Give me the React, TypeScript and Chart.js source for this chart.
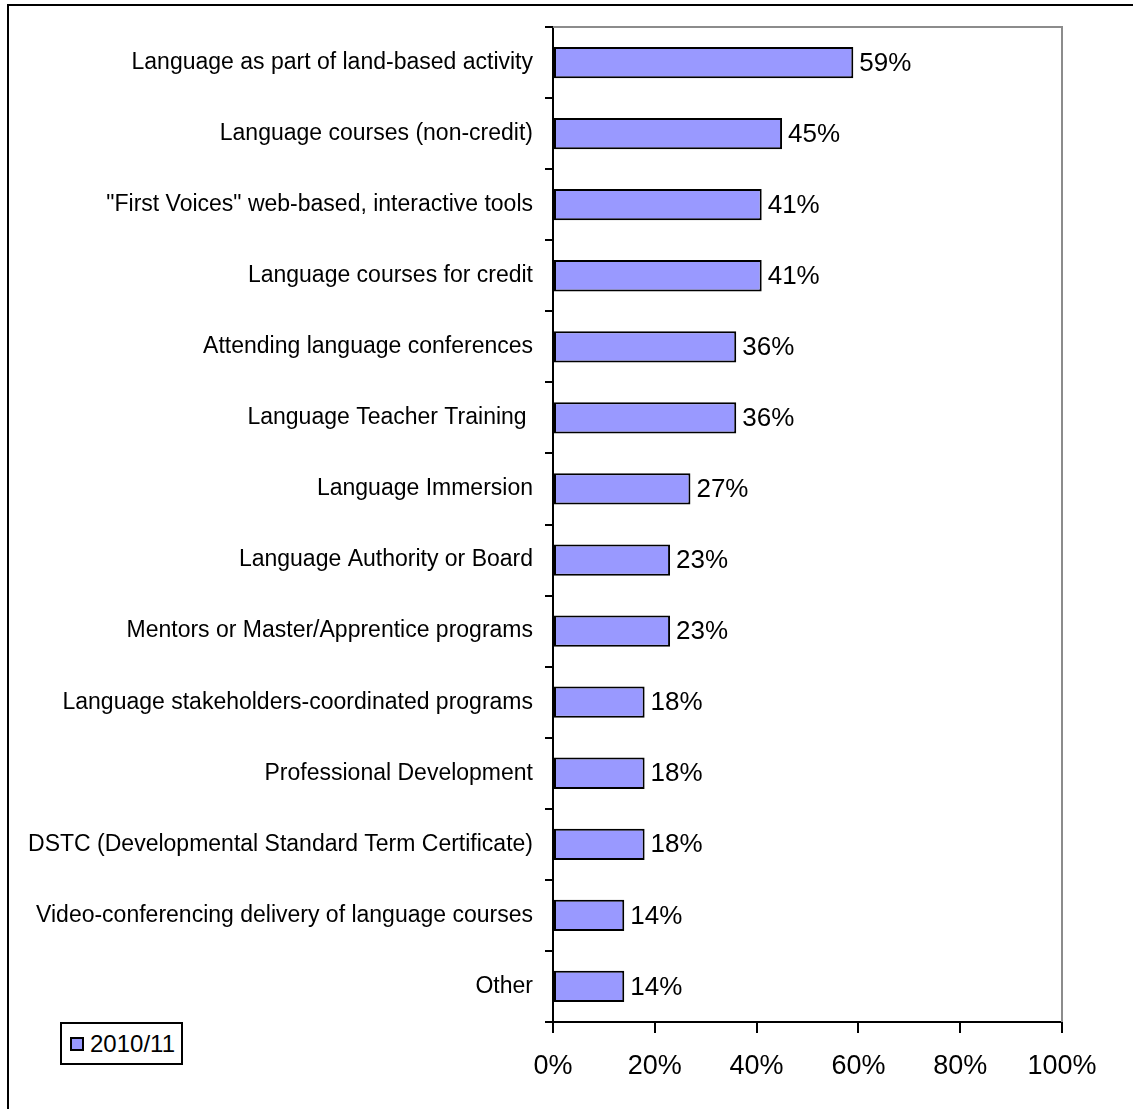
import React, { useEffect, useRef } from "react";
import { Chart, registerables } from "chart.js";

Chart.register(...registerables);

const categories: string[] = [
  "Language as part of land-based activity",
  "Language courses (non-credit)",
  "\"First Voices\" web-based, interactive tools",
  "Language courses for credit",
  "Attending language conferences",
  "Language Teacher Training ",
  "Language Immersion",
  "Language Authority or Board",
  "Mentors or Master/Apprentice programs",
  "Language stakeholders-coordinated programs",
  "Professional Development",
  "DSTC (Developmental Standard Term Certificate)",
  "Video-conferencing delivery of language courses",
  "Other",
];

const values2010: number[] = [59, 45, 41, 41, 36, 36, 27, 23, 23, 18, 18, 18, 14, 14];

const xTicks: number[] = [0, 20, 40, 60, 80, 100];

const seriesName = "2010/11";
const FONT = "'Liberation Sans', Arial, sans-serif";
const BAR_COLOR = "#9999FF";

const W = 1133;
const H = 1109;
const PLOT_LEFT = 553;
const PLOT_RIGHT = 1062;
const PLOT_TOP = 27;
const PLOT_BOTTOM = 1022;

const valueLabels = {
  id: "valueLabels",
  afterDatasetsDraw(chart: any) {
    const ctx = chart.ctx;
    const meta = chart.getDatasetMeta(0);
    ctx.save();
    ctx.font = `26px ${FONT}`;
    ctx.fillStyle = "#000";
    ctx.textAlign = "left";
    ctx.textBaseline = "middle";
    meta.data.forEach((bar: any, i: number) => {
      ctx.fillText(`${values2010[i]}%`, bar.x + 6, bar.y + 1);
    });
    ctx.restore();
  },
};

const plotFrame = {
  id: "plotFrame",
  beforeDatasetsDraw(chart: any) {
    const { ctx, chartArea } = chart;
    ctx.save();
    ctx.strokeStyle = "#8c8c8c";
    ctx.lineWidth = 2;
    ctx.beginPath();
    ctx.moveTo(chartArea.left, chartArea.top);
    ctx.lineTo(chartArea.right, chartArea.top);
    ctx.lineTo(chartArea.right, chartArea.bottom);
    ctx.stroke();
    ctx.restore();
  },
};

export default function App() {
  const ref = useRef<HTMLCanvasElement | null>(null);

  useEffect(() => {
    if (!ref.current) return;
    const chart = new Chart(ref.current, {
      type: "bar",
      data: {
        labels: categories,
        datasets: [
          {
            label: seriesName,
            data: values2010.map((v) => v / 100),
            backgroundColor: BAR_COLOR,
            borderColor: "#000",
            borderWidth: 2,
            borderSkipped: false,
            categoryPercentage: 1,
            barPercentage: 0.44,
          },
        ],
      },
      options: {
        indexAxis: "y",
        responsive: false,
        animation: false,
        maintainAspectRatio: false,
        layout: {
          padding: { top: PLOT_TOP, right: W - PLOT_RIGHT, bottom: 0, left: 0 },
        },
        plugins: {
          legend: { display: false },
          tooltip: { enabled: false },
          title: { display: false },
        },
        scales: {
          x: {
            type: "linear",
            min: 0,
            max: 1,
            afterBuildTicks(scale: any) {
              scale.ticks = xTicks.map((t) => ({ value: t / 100 }));
            },
            afterFit(scale: any) {
              scale.height = H - PLOT_BOTTOM;
            },
            ticks: {
              callback: (v: any) => `${Math.round(Number(v) * 100)}%`,
              font: { family: FONT, size: 27 },
              color: "#000",
              padding: 17,
              maxRotation: 0,
            },
            grid: {
              drawOnChartArea: false,
              drawTicks: true,
              tickLength: 11,
              color: "#000",
              lineWidth: 2,
            },
            border: { display: true, color: "#000", width: 2 },
          },
          y: {
            type: "category",
            afterFit(scale: any) {
              scale.width = PLOT_LEFT;
            },
            ticks: {
              font: { family: FONT, size: 23 },
              color: "#000",
              padding: 12,
              autoSkip: false,
            },
            grid: {
              offset: true,
              drawOnChartArea: false,
              drawTicks: true,
              tickLength: 8,
              color: "#000",
              lineWidth: 2,
            },
            border: { display: true, color: "#000", width: 2 },
          },
        },
      },
      plugins: [plotFrame, valueLabels],
    });
    return () => chart.destroy();
  }, []);

  return (
    <div style={{ position: "absolute", left: 0, top: 0, width: W, height: H, background: "#fff", overflow: "hidden" }}>
      <div
        style={{
          position: "absolute",
          left: 7,
          top: 4,
          width: W + 20,
          height: H + 20,
          borderLeft: "2px solid #000",
          borderTop: "2px solid #000",
          boxSizing: "border-box",
        }}
      />
      <canvas ref={ref} width={W} height={H} style={{ position: "absolute", left: 0, top: 0, width: W, height: H }} />
      <div
        style={{
          position: "absolute",
          left: 60,
          top: 1022,
          width: 123,
          height: 43,
          border: "2px solid #000",
          boxSizing: "border-box",
          background: "#fff",
          display: "flex",
          alignItems: "center",
          paddingLeft: 8,
          fontFamily: FONT,
          fontSize: 24,
          color: "#000",
          whiteSpace: "nowrap",
        }}
      >
        <span
          style={{
            display: "inline-block",
            width: 14,
            height: 14,
            boxSizing: "border-box",
            background: BAR_COLOR,
            border: "2px solid #000",
            marginRight: 6,
          }}
        />
        <span>{seriesName}</span>
      </div>
    </div>
  );
}
